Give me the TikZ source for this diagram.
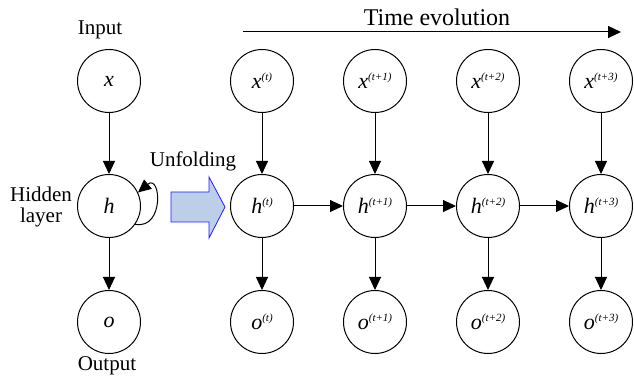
\documentclass[tikz,border=0pt]{standalone}
\usepackage{fontspec}
\setmainfont{Liberation Serif}
\usetikzlibrary{arrows.meta, positioning}

\definecolor{arrowfill}{RGB}{189,207,232}
\definecolor{arrowline}{RGB}{30,30,255}

\newcommand{\sv}[2]{\textit{#1}\raisebox{8pt}{\fontsize{11}{11}\selectfont\textit{#2}}}

\begin{document}
\begin{tikzpicture}[x=1pt, y=1pt, line width=1pt,
    neuron/.style={circle, draw, minimum size=63pt, inner sep=0pt, font=\fontsize{22}{24}\selectfont},
    lbl/.style={font=\fontsize{21}{21}\selectfont, inner sep=0pt},
    arr/.style={-{Triangle[length=13pt, width=12pt]}}]
        \useasboundingbox (0,0) rectangle (634,380);

        % folded network
        \node[neuron] (xin) at (109,299) {\textit{x}};
        \node[neuron] (hid) at (109,174) {\textit{h}};
        \node[neuron] (out) at (109,58) {\textit{o}};
        \draw[arr] (xin) -- (hid);
        \draw[arr] (hid) -- (out);
        \draw[arr] (hid.-35) to[out=-10, in=40, looseness=2.4] (hid.25);

        \node[lbl, anchor=base] (inlbl) at (100,345) {Input};
        \node[lbl, align=center] (hidlbl) at (41,173) {Hidden\\layer};
        \node[lbl, anchor=base] (outlbl) at (107,10) {Output};

        % Unfolding arrow
        \draw[arrowline, fill=arrowfill, line width=0.8pt] (171,188) -- (209,188) -- (209,203) -- (225,173) -- (209,142) -- (209,158) -- (171,158) -- cycle;
        \node[lbl, anchor=base] (unfold) at (193,213) {Unfolding};

        % unrolled network
        \foreach \i/\s in {0/t, 1/t+1, 2/t+2, 3/t+3} {
            \node[neuron] (x\i) at (262+113*\i,299) {\sv{x}{(\s)}};
            \node[neuron] (h\i) at (262+113*\i,174) {\sv{h}{(\s)}};
            \node[neuron] (o\i) at (262+113*\i,58) {\sv{o}{(\s)}};
            \draw[arr] (x\i) -- (h\i);
            \draw[arr] (h\i) -- (o\i);
        }
        \foreach \i [count=\j] in {0,1,2} {
            \draw[arr] (h\i) -- (h\j);
        }

        % time axis
        \coordinate (tstart) at (243,348);
        \coordinate (tend) at (621,348);
        \draw[arr] (tstart) -- (tend);
        \node[lbl, font=\fontsize{24}{24}\selectfont, anchor=base] (time) at (437,354) {Time evolution};
    \end{tikzpicture}
\end{document}
